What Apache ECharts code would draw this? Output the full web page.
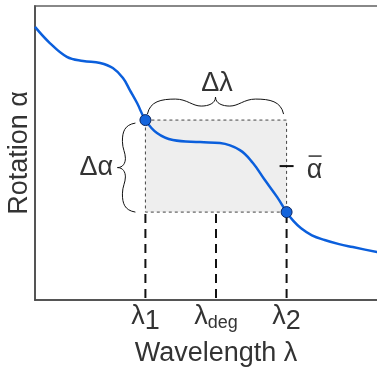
<!DOCTYPE html>
<html>
<head>
<meta charset="utf-8">
<script src="https://cdn.jsdelivr.net/npm/echarts@6/dist/echarts.min.js"></script>
<style>html,body{margin:0;padding:0;background:#fff}#c{width:377px;height:368px}</style>
</head>
<body>
<div id="c"></div>
<script>
// ---- data ----
const curveX = [0, 4.1, 8.8, 13.3, 18.0, 21.5, 24.3, 26.2, 28.2, 30.5, 33.7, 38.1, 45.6, 51.1, 56.6, 60.2, 63.5, 66.9, 69.5, 71.3, 73.5, 76.5, 80.0, 84.0, 87.8, 94.5, 100];
const curveY = [92.9, 87.4, 82.7, 81.3, 80.6, 78.9, 75.5, 71.4, 67.0, 61.2, 56.8, 54.4, 53.7, 53.4, 51.0, 46.6, 40.8, 35.0, 29.9, 27.0, 24.4, 22.0, 20.4, 19.0, 18.0, 16.3, 15.0];
const lambdas = [30.5, 50, 69.5];          // λ1, λdeg, λ2
const pointY = [61.2, 29.9];               // α at λ1, α at λ2
const tickLabels = ['{a|λ}{s|1}', '{a|λ}{d|deg}', '{a|λ}{s|2}'];
const xName = 'Wavelength λ';
const yName = 'Rotation α';
const annText = { dl: 'Δλ', da: 'Δα', ab: 'α' };

const FONT = 'Liberation Sans, Arial, sans-serif';
const TXT = '#333';

const chart = echarts.init(document.getElementById('c'));

function bez(p0, c1, c2, p1, style) {
  return { type: 'bezierCurve', shape: { x1: p0[0], y1: p0[1], cpx1: c1[0], cpy1: c1[1], cpx2: c2[0], cpy2: c2[1], x2: p1[0], y2: p1[1] }, style: style };
}
// brace along u (from ua to ub), perpendicular offsets v relative to base edge
function brace(ua, ub, base, off, map, style) {
  const q = (ub - ua) / 2;
  const v0 = base + off[0], vp = base + off[1], vr = base + off[2], vt = base + off[3];
  const out = [];
  [1, -1].forEach(function (s) {
    const e = s === 1 ? ua : ub;
    const U = function (f) { return e + s * f * q; };
    out.push(bez(map(U(0), v0), map(U(0.04), v0 + (vp - v0) * 0.85), map(U(0.2), vp), map(U(0.41), vp), style));
    out.push(bez(map(U(0.41), vp), map(U(0.58), vp), map(U(0.66), vr), map(U(0.79), vr), style));
    out.push(bez(map(U(0.79), vr), map(U(0.9), vr), map(U(1), vr + (vt - vr) * 0.3), map(U(1), vt), style));
  });
  return out;
}

const option = {
  animation: false,
  grid: { left: 35, right: -20, top: 6, bottom: 68, show: true, borderColor: '#888', borderWidth: 2, containLabel: false, outerBoundsMode: 'none' },
  xAxis: {
    type: 'value', min: 0, max: 100,
    axisLine: { show: true, onZero: false, lineStyle: { color: '#444', width: 1.5 } },
    axisTick: { show: false }, splitLine: { show: false },
    axisLabel: {
      customValues: lambdas, margin: 3,
      formatter: function (v) {
        let best = 0;
        lambdas.forEach(function (l, i) { if (Math.abs(l - v) < Math.abs(lambdas[best] - v)) best = i; });
        return tickLabels[best];
      },
      rich: {
        a: { fontSize: 27, fontFamily: FONT, color: TXT, verticalAlign: 'top' },
        s: { fontSize: 27, fontFamily: FONT, color: TXT, padding: [5, 0, 0, 0], verticalAlign: 'top' },
        d: { fontSize: 18, fontFamily: FONT, color: TXT, padding: [11, 0, 0, 0], verticalAlign: 'top' }
      }
    },
    name: xName, nameLocation: 'middle', nameGap: 38,
    nameTextStyle: { fontSize: 27, fontFamily: FONT, color: TXT }
  },
  yAxis: {
    type: 'value', min: 0, max: 100,
    axisLine: { show: true, lineStyle: { color: '#444', width: 1.5 } },
    axisTick: { show: false }, splitLine: { show: false }, axisLabel: { show: false },
    name: yName, nameLocation: 'middle', nameGap: 2, nameRotate: 90,
    nameTextStyle: { fontSize: 27, fontFamily: FONT, color: TXT }
  },
  series: [
    {
      type: 'custom', z: 1, silent: true, data: [[0]],
      renderItem: function (params, api) {
        const p1 = api.coord([lambdas[0], pointY[0]]);
        const p2 = api.coord([lambdas[2], pointY[1]]);
        const children = [{
          type: 'rect',
          shape: { x: p1[0], y: p1[1], width: p2[0] - p1[0], height: p2[1] - p1[1] },
          style: { fill: '#eeeeee', stroke: '#444', lineWidth: 1, lineDash: [3, 3] }
        }];
        lambdas.forEach(function (l) {
          const a = api.coord([l, pointY[1]]), b = api.coord([l, 0]);
          children.push({ type: 'line', shape: { x1: a[0], y1: a[1] + 2, x2: b[0], y2: b[1] }, style: { stroke: '#111', lineWidth: 2, lineDash: [9, 6] } });
        });
        return { type: 'group', children: children };
      }
    },
    {
      type: 'line', z: 3, data: curveX.map(function (x, i) { return [x, curveY[i]]; }),
      smooth: 0.4, showSymbol: false, lineStyle: { color: '#0b5fdc', width: 2.5 }
    },
    {
      type: 'scatter', z: 4, symbolSize: 11,
      data: [[lambdas[0], pointY[0]], [lambdas[2], pointY[1]]],
      itemStyle: { color: '#1464dc', borderColor: '#0b2660', borderWidth: 1, opacity: 1 }
    },
    {
      type: 'custom', z: 5, silent: true, data: [[0]],
      renderItem: function (params, api) {
        const p1 = api.coord([lambdas[0], pointY[0]]);
        const p2 = api.coord([lambdas[2], pointY[1]]);
        const midY = (p1[1] + p2[1]) / 2;
        const st = { stroke: '#111', lineWidth: 1, fill: null };
        let ch = [];
        ch = ch.concat(brace(p1[0] + 2, p2[0] - 3, p1[1], [-6, -21, -14, -23], function (u, v) { return [u, v]; }, st));
        ch = ch.concat(brace(p1[1] + 3, p2[1], p1[0], [-10, -23, -20, -28], function (u, v) { return [v, u]; }, st));
        const tf = '27px ' + FONT;
        ch.push({ type: 'text', style: { text: annText.dl, x: (p1[0] + p2[0]) / 2 + 1, y: p1[1] - 37, align: 'center', verticalAlign: 'middle', font: tf, fill: TXT } });
        ch.push({ type: 'text', style: { text: annText.da, x: p1[0] - 49, y: midY + 1, align: 'center', verticalAlign: 'middle', font: tf, fill: TXT } });
        ch.push({ type: 'text', style: { text: annText.ab, x: p2[0] + 28, y: midY + 4, align: 'center', verticalAlign: 'middle', font: tf, fill: TXT } });
        ch.push({ type: 'line', shape: { x1: p2[0] + 22, y1: midY - 10, x2: p2[0] + 35, y2: midY - 10 }, style: { stroke: TXT, lineWidth: 1.5 } });
        ch.push({ type: 'line', shape: { x1: p2[0] - 7, y1: midY, x2: p2[0] + 7, y2: midY }, style: { stroke: '#111', lineWidth: 2 } });
        return { type: 'group', children: ch };
      }
    }
  ]
};
chart.setOption(option);
</script>
</body>
</html>
